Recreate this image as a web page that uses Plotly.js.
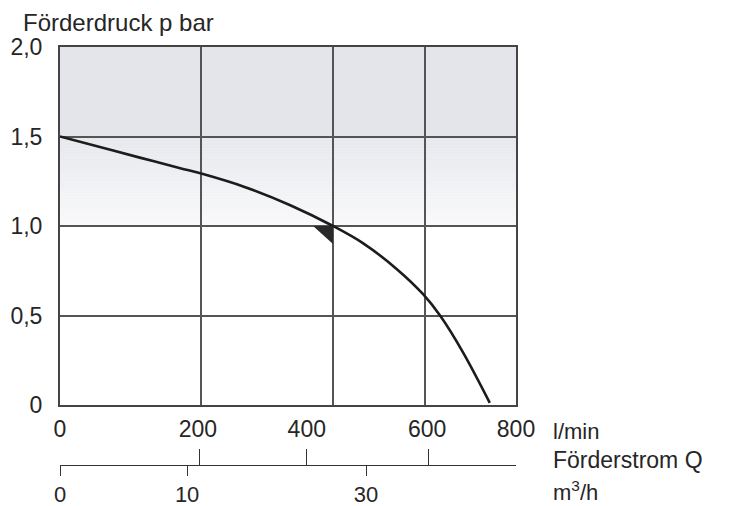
<!DOCTYPE html>
<html>
<head>
<meta charset="utf-8">
<script src="https://cdn.plot.ly/plotly-3.0.1.min.js"></script>
<style>
  html, body { margin: 0; padding: 0; background: #ffffff; }
  #chart { width: 735px; height: 506px; }
</style>
</head>
<body>
<div id="chart"></div>
<script>
// ---- data (x positions follow the drawing's own grid) ----
const xGridVals    = [0, 247, 479, 640, 800];          // vertical grid lines
const yGridVals    = [0, 0.5, 1, 1.5, 2];
const yTickText    = ['0', '0,5', '1,0', '1,5', '2,0'];
const lminLabels   = ['0', '200', '400', '600', '800'];
const lminLabelPos = [0, 242, 433, 644, 800];
const m3hMajorPos  = [0, 244, 433, 646, 800];           // upper ticks of the m³/h scale
const m3hLabels    = ['0', '10', '30'];
const m3hLabelPos  = [0, 223, 537];
const curveQ = [0, 70, 140, 211, 251, 325, 404, 479, 532, 591, 637, 668, 707, 754];
const curveP = [1.5, 1.441, 1.382, 1.323, 1.290, 1.217, 1.116, 1.0, 0.903, 0.759, 0.619, 0.494, 0.294, 0.012];
const markQ = [444, 479, 479, 444];
const markP = [1.0, 1.0, 0.9, 1.0];

const ink = '#262626';
const fontFam = 'Liberation Sans, Arial, sans-serif';

// ---- background shading ----
const shapes = [];
shapes.push({type: 'rect', xref: 'x', yref: 'y', x0: 0, x1: 800, y0: 1.5, y1: 2.0,
  fillcolor: 'rgb(227,229,234)', line: {width: 0}, layer: 'below'});
const nStrips = 30;
const cTop = [230, 232, 237], cBot = [249, 249, 250];
for (let i = 0; i < nStrips; i++) {
  const t = i / (nStrips - 1);
  const c = cTop.map((v, k) => Math.round(v + (cBot[k] - v) * t));
  const y1 = 1.5 - i * 0.5 / nStrips;
  const y0 = y1 - 0.5 / nStrips - 0.002;
  shapes.push({type: 'rect', xref: 'x', yref: 'y', x0: 0, x1: 800, y0: Math.max(1.0, y0), y1: y1,
    fillcolor: 'rgb(' + c.join(',') + ')', line: {width: 0}, layer: 'below'});
}

const traces = [
  {x: curveQ, y: curveP, mode: 'lines', line: {color: '#1c1c1c', width: 2.6, shape: 'spline', smoothing: 1},
   hoverinfo: 'skip', showlegend: false},
  {x: markQ, y: markP, mode: 'lines', fill: 'toself', fillcolor: '#2a2a2a', line: {width: 0, color: '#2a2a2a'},
   hoverinfo: 'skip', showlegend: false},
  {x: lminLabelPos, y: lminLabelPos.map(() => 0), xaxis: 'x2', mode: 'markers', marker: {opacity: 0},
   hoverinfo: 'skip', showlegend: false},
  {x: m3hMajorPos, y: m3hMajorPos.map(() => 0), xaxis: 'x3', mode: 'markers', marker: {opacity: 0},
   hoverinfo: 'skip', showlegend: false},
  {x: m3hLabelPos, y: m3hLabelPos.map(() => 0), xaxis: 'x4', mode: 'markers', marker: {opacity: 0},
   hoverinfo: 'skip', showlegend: false}
];

const H = 506, mt = 47, mb = 36;
const plotH = H - mt - mb;
const yBottomPx = 405, scaleLinePx = 465;
const yDomain0 = (H - mb - yBottomPx) / plotH;
const scalePos = (H - mb - scaleLinePx) / plotH;
const px2paperY = p => (H - mb - p) / plotH;
const px2paperX = p => (p - 60) / 456;

const gridCol = '#555555';
const layout = {
  width: 735, height: 506,
  margin: {l: 60, r: 219, t: mt, b: mb, pad: 0},
  paper_bgcolor: '#ffffff', plot_bgcolor: 'rgba(0,0,0,0)',
  font: {family: fontFam, color: ink, size: 21},
  showlegend: false,
  xaxis: {range: [0, 800], domain: [0, 1], tickmode: 'array', tickvals: xGridVals, showticklabels: false,
    ticks: '', showgrid: true, gridcolor: gridCol, gridwidth: 2, zeroline: false,
    showline: true, mirror: true, linecolor: '#444444', linewidth: 2, fixedrange: true},
  xaxis2: {overlaying: 'x', anchor: 'y', side: 'bottom', range: [0, 800], tickmode: 'array',
    tickvals: lminLabelPos, ticktext: lminLabels, ticks: 'outside', ticklen: 3, tickcolor: 'rgba(0,0,0,0)',
    showgrid: false, zeroline: false, showline: false, tickfont: {size: 23, color: ink}},
  xaxis3: {overlaying: 'x', anchor: 'free', position: scalePos, side: 'bottom', range: [0, 800],
    tickmode: 'array', tickvals: m3hMajorPos, ticks: 'inside', ticklen: 16, tickwidth: 1, tickcolor: '#333333',
    showticklabels: false, showgrid: false, zeroline: false, showline: true, linecolor: '#333333', linewidth: 1},
  xaxis4: {overlaying: 'x', anchor: 'free', position: scalePos, side: 'bottom', range: [0, 800],
    tickmode: 'array', tickvals: m3hLabelPos, ticktext: m3hLabels, ticks: 'outside', ticklen: 10, tickwidth: 1,
    tickcolor: '#333333', showgrid: false, zeroline: false, showline: false, tickfont: {size: 22, color: ink}},
  yaxis: {range: [0, 2], domain: [yDomain0, 1], tickmode: 'array', tickvals: yGridVals, ticktext: yTickText,
    ticks: 'outside', ticklen: 11, tickcolor: 'rgba(0,0,0,0)', showgrid: true, gridcolor: gridCol,
    gridwidth: 2, zeroline: false, showline: true, mirror: true, linecolor: '#444444', linewidth: 2,
    tickfont: {size: 23, color: ink}, fixedrange: true},
  shapes: shapes,
  annotations: [
    {text: 'Förderdruck p bar', xref: 'paper', yref: 'paper', x: px2paperX(21), y: px2paperY(22),
     xanchor: 'left', yanchor: 'middle', showarrow: false, font: {size: 24, color: ink}},
    {text: 'l/min', xref: 'paper', yref: 'paper', x: px2paperX(551), y: px2paperY(431),
     xanchor: 'left', yanchor: 'middle', showarrow: false, font: {size: 22, color: ink}},
    {text: 'Förderstrom Q', xref: 'paper', yref: 'paper', x: px2paperX(551), y: px2paperY(460),
     xanchor: 'left', yanchor: 'middle', showarrow: false, font: {size: 23, color: ink}},
    {text: 'm<sup>3</sup>/h', xref: 'paper', yref: 'paper', x: px2paperX(551), y: px2paperY(491),
     xanchor: 'left', yanchor: 'middle', showarrow: false, font: {size: 22, color: ink}}
  ]
};

Plotly.newPlot('chart', traces, layout, {displayModeBar: false, responsive: false});
</script>
</body>
</html>
